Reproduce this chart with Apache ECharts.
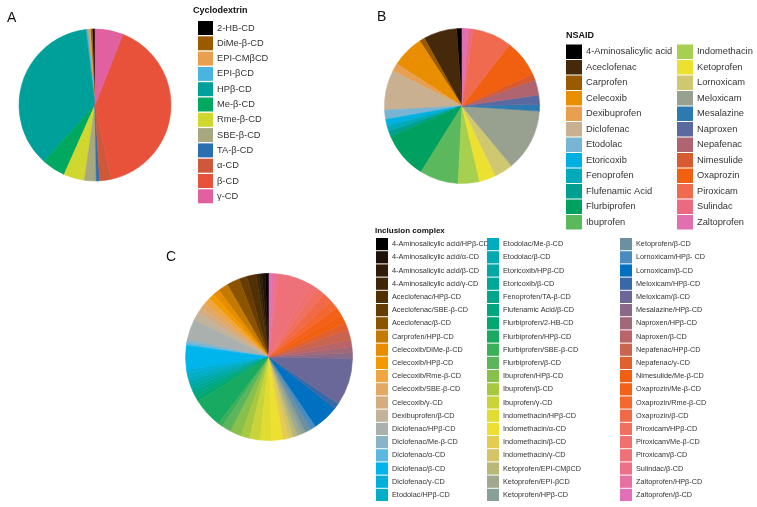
<!DOCTYPE html>
<html><head><meta charset="utf-8">
<script src="https://cdn.jsdelivr.net/npm/echarts@6/dist/echarts.min.js"></script>
<style>html,body{margin:0;padding:0;background:#fff}#c{width:757px;height:507px}</style>
</head><body><div id="c"></div>
<script>
// ---- Panel A: Cyclodextrin ----
const cdNames = ['2-HB-CD','DiMe-β-CD','EPI-CMβCD','EPI-βCD','HPβ-CD','Me-β-CD','Rme-β-CD','SBE-β-CD','TA-β-CD','α-CD','β-CD','γ-CD'];
const cdValues = [2,1.5,2,1.5,131,18,16,9,2.5,9,146,21.5];
const cdColors = ['#000000','#9c5a00','#e8a050','#4ab4e0','#00a09a','#00a860','#d0d830','#a8a880','#2a70b0','#d0583a','#e8523a','#e060a0'];

// ---- Panel B: NSAID ----
const nsaidNames = ['4-Aminosalicylic acid','Aceclofenac','Carprofen','Celecoxib','Dexibuprofen','Diclofenac','Etodolac','Etoricoxib','Fenoprofen','Flufenamic Acid','Flurbiprofen','Ibuprofen','Indomethacin','Ketoprofen','Lornoxicam','Meloxicam','Mesalazine','Naproxen','Nepafenac','Nimesulide','Oxaprozin','Piroxicam','Sulindac','Zaltoprofen'];
const nsaidValues = [4,25,4,24,6,30,7,5,4,4,35,29,16,12.5,14,46.5,5,7,11.5,4.5,28,29.5,3.5,4.7];
const nsaidColors = ['#000000','#45290a','#9a5a00','#e88e00','#e8a050','#c8b090','#78b4d4','#00b0e0','#00aab8','#00a090','#00a060','#5cb85c','#a8d050','#ece030','#d0c870','#98a090','#2c7ab0','#5a6aa0','#b06470','#d85a30','#f06010','#f06a50','#ec6a80','#e070b0'];

// ---- Panel C: Inclusion complex ----
const icNames = ['4-Aminosalicylic acid/HPβ-CD','4-Aminosalicylic acid/α-CD','4-Aminosalicylic acid/β-CD','4-Aminosalicylic acid/γ-CD','Aceclofenac/HPβ-CD','Aceclofenac/SBE-β-CD','Aceclofenac/β-CD','Carprofen/HPβ-CD','Celecoxib/DiMe-β-CD','Celecoxib/HPβ-CD','Celecoxib/Rme-β-CD','Celecoxib/SBE-β-CD','Celecoxib/γ-CD','Dexibuprofen/β-CD','Diclofenac/HPβ-CD','Diclofenac/Me-β-CD','Diclofenac/α-CD','Diclofenac/β-CD','Diclofenac/γ-CD','Etodolac/HPβ-CD',
'Etodolac/Me-β-CD','Etodolac/β-CD','Etoricoxib/HPβ-CD','Etoricoxib/β-CD','Fenoprofen/TA-β-CD','Flufenamic Acid/β-CD','Flurbiprofen/2-HB-CD','Flurbiprofen/HPβ-CD','Flurbiprofen/SBE-β-CD','Flurbiprofen/β-CD','Ibuprofen/HPβ-CD','Ibuprofen/β-CD','Ibuprofen/γ-CD','Indomethacin/HPβ-CD','Indomethacin/α-CD','Indomethacin/β-CD','Indomethacin/γ-CD','Ketoprofen/EPI-CMβCD','Ketoprofen/EPI-βCD','Ketoprofen/HPβ-CD',
'Ketoprofen/β-CD','Lornoxicam/HPβ- CD','Lornoxicam/β-CD','Meloxicam/HPβ-CD','Meloxicam/β-CD','Mesalazine/HPβ-CD','Naproxen/HPβ-CD','Naproxen/β-CD','Nepafenac/HPβ-CD','Nepafenac/γ-CD','Nimesulide/Me-β-CD','Oxaprozin/Me-β-CD','Oxaprozin/Rme-β-CD','Oxaprozin/β-CD','Piroxicam/HPβ-CD','Piroxicam/Me-β-CD','Piroxicam/β-CD','Sulindac/β-CD','Zaltoprofen/HPβ-CD','Zaltoprofen/β-CD'];
const icValues = [2.7,2.3,2,2,6.5,5.5,9,7,4.6,3.9,4.5,4,4,5.7,14.3,2.3,1.7,16.7,2.9,2.4,
2.5,2.5,2.5,2.5,2.5,2.5,3,20.7,3.3,6.6,7.8,6.1,7.5,8,8,4,3,3,3,3,
4,4,18,4,33,4,4,5,7,5,6,6,6,7,6,5.5,23.1,2.2,2.2,2];
const icColors = ['#000000','#1e1208','#2e1c08','#3f2606','#513006','#663c04','#8a5300','#c47a00','#e88c00','#f39a00','#efa640','#e4a865','#d5ac80','#c3b39b','#a9b0ad','#88b4c8','#5cb8e0','#00b4ec','#00b0db','#00aec8',
'#00acc0','#00aab2','#00a8a4','#00a898','#00a68a','#00a67c','#00a870','#18aa60','#3cb058','#5cb55c','#88c04c','#a8c840','#c8d438','#e0dc30','#eee030','#e4cc50','#d4c468','#b8b878','#a0a890','#88a098',
'#6c90a0','#4a8cc0','#0070c0','#3868a8','#6a6898','#8a6888','#a06878','#b86468','#c86450','#e06030','#f06010','#f46018','#f46830','#f06a48','#f07060','#f07070','#ee7078','#ec7088','#e870a0','#e070b8'];

const FONT = 'Liberation Sans, Arial, sans-serif';

function pieSeries(center, r, names, values, colors){
  return {type:'pie', center:center, radius:r, startAngle:90, clockwise:false,
    data:names.map((n,i)=>({name:n, value:values[i], itemStyle:{color:colors[i], borderColor:colors[i], borderWidth:0.6}})),
    label:{show:false}, labelLine:{show:false}, emphasis:{disabled:true},
    silent:true, animation:false, minAngle:0};
}
function legend(left, top, names, iw, ih, gap, fs){
  return {orient:'vertical', left:left, top:top, data:names, icon:'rect',
    itemWidth:iw, itemHeight:ih, itemGap:gap, padding:0, selectedMode:false,
    itemStyle:{borderWidth:0},
    textStyle:{fontSize:fs, color:'#333', fontFamily:FONT, padding:[0,0,0,-1]}};
}

const chart = echarts.init(document.getElementById('c'));
chart.setOption({
  animation:false,
  backgroundColor:'#fff',
  series:[
    pieSeries([95,105], 76, cdNames, cdValues, cdColors),
    pieSeries([462,106], 77.5, nsaidNames, nsaidValues, nsaidColors),
    pieSeries([269,357], 83.5, icNames, icValues, icColors)
  ],
  legend:[
    legend(198, 21, cdNames, 15, 14, 1.3, 9.3),
    legend(566, 44.5, nsaidNames.slice(0,12), 16, 14.5, 1, 9.3),
    legend(677, 44.5, nsaidNames.slice(12), 16, 14.5, 1, 9.3),
    legend(376, 238, icNames.slice(0,20), 12, 12.2, 1, 7.3),
    legend(487, 238, icNames.slice(20,40), 12, 12.2, 1, 7.3),
    legend(620, 238, icNames.slice(40), 12, 12.2, 1, 7.3)
  ],
  graphic:[
    {type:'text', left:7, top:11, style:{text:'A', font:'14px '+FONT, fill:'#111'}},
    {type:'text', left:377, top:10, style:{text:'B', font:'14px '+FONT, fill:'#111'}},
    {type:'text', left:166, top:250, style:{text:'C', font:'14px '+FONT, fill:'#111'}},
    {type:'text', left:193, top:6, style:{text:'Cyclodextrin', font:'bold 9px '+FONT, fill:'#111'}},
    {type:'text', left:566, top:31, style:{text:'NSAID', font:'bold 9px '+FONT, fill:'#111'}},
    {type:'text', left:375, top:227, style:{text:'Inclusion complex', font:'bold 8px '+FONT, fill:'#111'}}
  ]
});
</script></body></html>
